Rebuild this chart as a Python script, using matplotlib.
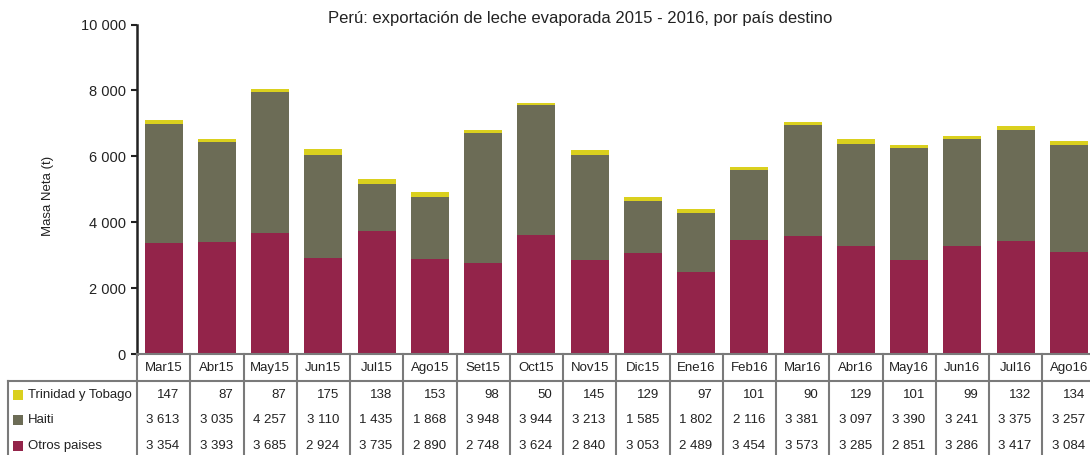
import matplotlib.pyplot as plt
from matplotlib.patches import Rectangle
from matplotlib.lines import Line2D
from matplotlib.transforms import blended_transform_factory

plt.rcParams['font.family'] = ['Liberation Sans', 'DejaVu Sans']

# datos
meses = ['Mar15', 'Abr15', 'May15', 'Jun15', 'Jul15', 'Ago15', 'Set15', 'Oct15', 'Nov15',
         'Dic15', 'Ene16', 'Feb16', 'Mar16', 'Abr16', 'May16', 'Jun16', 'Jul16', 'Ago16']
trinidad = [147, 87, 87, 175, 138, 153, 98, 50, 145, 129, 97, 101, 90, 129, 101, 99, 132, 134]
haiti = [3613, 3035, 4257, 3110, 1435, 1868, 3948, 3944, 3213, 1585, 1802, 2116, 3381, 3097,
         3390, 3241, 3375, 3257]
otros = [3354, 3393, 3685, 2924, 3735, 2890, 2748, 3624, 2840, 3053, 2489, 3454, 3573, 3285,
         2851, 3286, 3417, 3084]

series = [('Trinidad y Tobago', trinidad, '#DAD01E'),
          ('Haiti', haiti, '#6C6C56'),
          ('Otros paises', otros, '#93244A')]

W, H = 1090, 455
fig = plt.figure(figsize=(W / 100, H / 100), dpi=100)
ax = fig.add_axes([137 / W, 1 - 354 / H, 958.5 / W, 329.5 / H])

def fx(px):
    return px / W

def fy(py):
    return 1 - py / H

x = list(range(len(meses)))
ax.bar(x, otros, width=0.715, color='#93244A')
base = [o for o in otros]
ax.bar(x, haiti, width=0.715, bottom=base, color='#6C6C56')
base = [o + h for o, h in zip(otros, haiti)]
ax.bar(x, trinidad, width=0.715, bottom=base, color='#DAD01E')

ax.set_xlim(-0.5, len(meses) - 0.5)
ax.set_ylim(0, 10000)
ax.set_yticks(range(0, 10001, 2000))
ax.set_yticklabels([f'{v:,}'.replace(',', ' ') for v in range(0, 10001, 2000)])
ax.set_xticks([])
ax.tick_params(axis='y', length=4, width=1.5, labelsize=10.5, pad=4, colors='#222222')
for s in ['top', 'right']:
    ax.spines[s].set_visible(False)
ax.spines['left'].set_linewidth(1.8)
ax.spines['left'].set_color('#222222')
ax.spines['bottom'].set_linewidth(1.5)
ax.spines['bottom'].set_color('#7a7a7a')

fig.text(fx(48), fy(196), 'Masa Neta (t)', rotation=90, ha='center', va='center',
         fontsize=9.5, color='#222222')
fig.text(fx(580), fy(18), 'Perú: exportación de leche evaporada 2015 - 2016, por país destino',
         ha='center', va='center', fontsize=12, color='#222222')

# tabla de datos
tr = blended_transform_factory(ax.transData, fig.transFigure)
gris = '#7a7a7a'
for k in range(len(meses) + 1):
    fig.add_artist(Line2D([k - 0.5, k - 0.5], [fy(354), fy(460)], color=gris, lw=1.5,
                          transform=tr))
fig.add_artist(Line2D([fx(8), fx(1095)], [fy(381), fy(381)], color=gris, lw=1.5,
                      transform=fig.transFigure))
fig.add_artist(Line2D([fx(8), fx(8)], [fy(381), fy(460)], color=gris, lw=1.5,
                      transform=fig.transFigure))

for i, m in enumerate(meses):
    fig.text(i, fy(368), m, transform=tr, ha='center', va='center', fontsize=9.5,
             color='#222222')

filas_y = [395, 420, 446]
for (nombre, vals, col), yy in zip(series, filas_y):
    fig.add_artist(Rectangle((fx(13), fy(yy + 5)), fx(10), 10 / H, facecolor=col,
                             edgecolor='none', transform=fig.transFigure))
    fig.text(fx(28), fy(yy), nombre, ha='left', va='center', fontsize=9.5, color='#222222')
    for i, v in enumerate(vals):
        fig.text(i + 0.5 - 0.2, fy(yy), f'{v:,}'.replace(',', ' '), transform=tr,
                 ha='right', va='center', fontsize=9.5, color='#222222')

fig.savefig('out.png', dpi=100)
